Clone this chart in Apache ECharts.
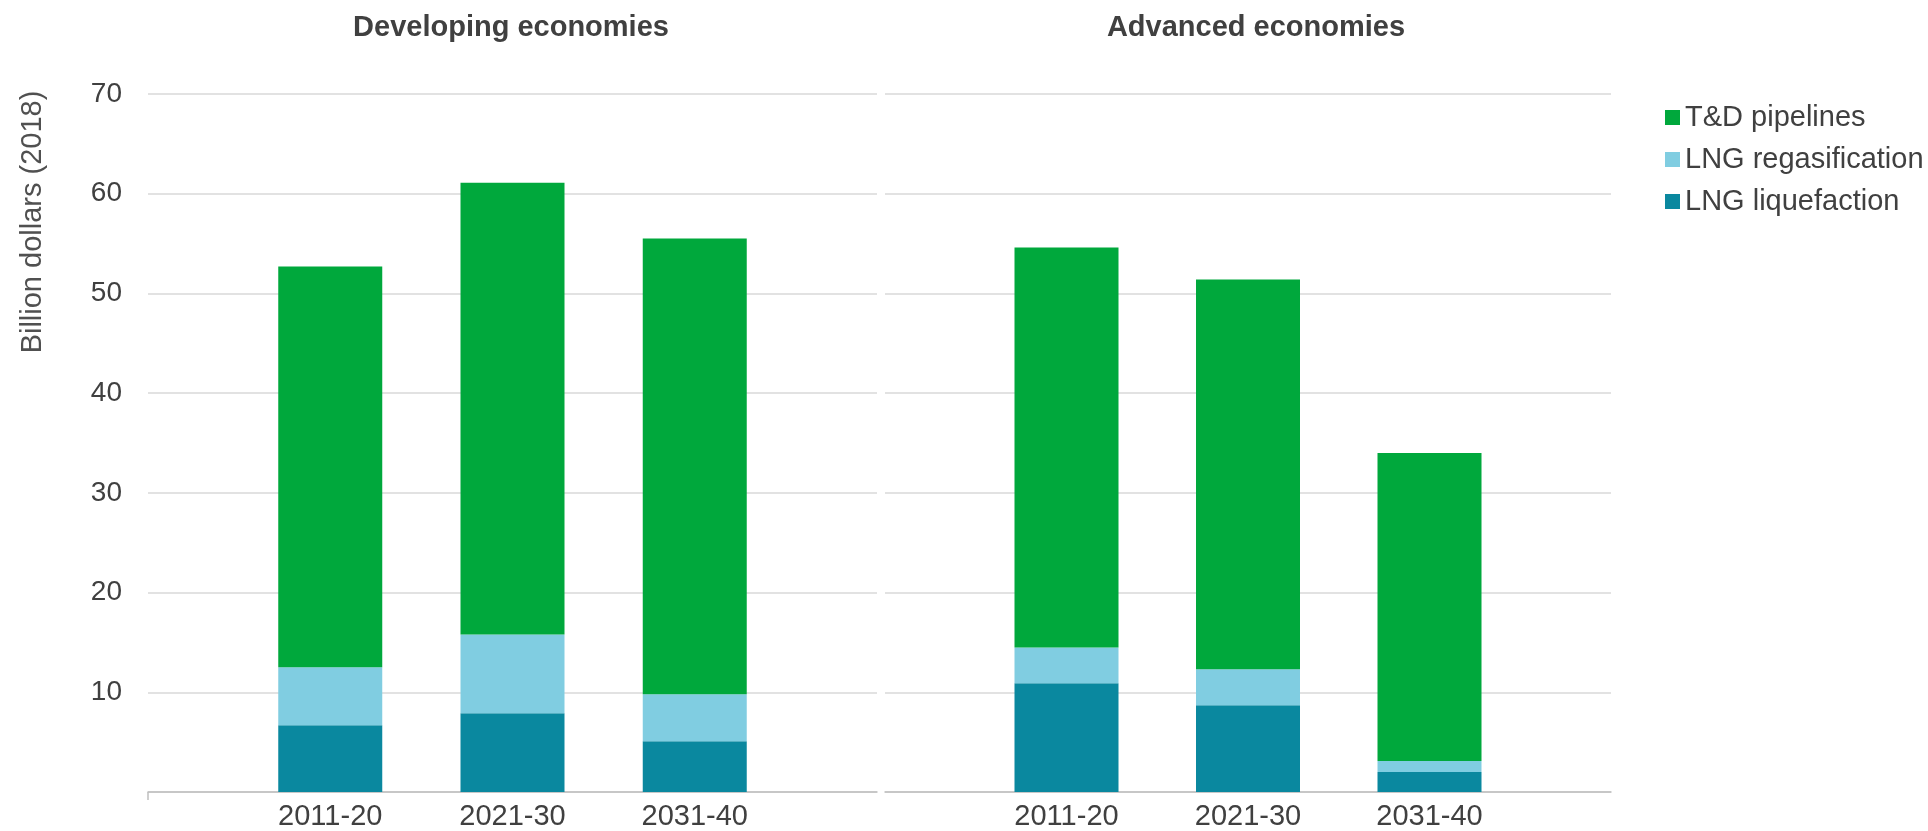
<!DOCTYPE html>
<html>
<head>
<meta charset="utf-8">
<script src="https://cdn.jsdelivr.net/npm/echarts@6/dist/echarts.min.js"></script>
<style>
html,body{margin:0;padding:0;background:#fff;}
#chart{width:1928px;height:831px;}
</style>
</head>
<body>
<div id="chart"></div>
<script>
// Categories per panel
const periods = ['2011-20', '2021-30', '2031-40'];
const panels = ['Developing economies', 'Advanced economies'];
const seriesNames = ['LNG liquefaction', 'LNG regasification', 'T&D pipelines'];
const legendOrder = ['T&D pipelines', 'LNG regasification', 'LNG liquefaction'];
const yTicks = [0, 10, 20, 30, 40, 50, 60, 70];

// Values (billion dollars 2018)
const devLiquefaction = [6.7, 7.9, 5.1];
const devRegasification = [5.8, 7.9, 4.7];
const devPipelines = [40.2, 45.3, 45.7];
const advLiquefaction = [10.9, 8.7, 2.0];
const advRegasification = [3.6, 3.6, 1.1];
const advPipelines = [40.1, 39.1, 30.9];

const colors = {
  'LNG liquefaction': '#0A889F',
  'LNG regasification': '#80CDE1',
  'T&D pipelines': '#00A83C'
};

// Each panel's category axis: blank, the three periods, blank (boundaryGap false)
const categories = [''].concat(periods, ['']);
function pad(arr) { return [null].concat(arr, [null]); }
const panelData = [
  {'LNG liquefaction': devLiquefaction, 'LNG regasification': devRegasification, 'T&D pipelines': devPipelines},
  {'LNG liquefaction': advLiquefaction, 'LNG regasification': advRegasification, 'T&D pipelines': advPipelines}
];

const FONT = "'Liberation Sans', Arial, sans-serif";
const chart = echarts.init(document.getElementById('chart'), null, {renderer: 'canvas'});

const grids = [
  {left: 148, width: 729, top: 94, bottom: 38},
  {left: 885, width: 726, top: 94, bottom: 38}
];

const xAxes = grids.map(function (g, i) {
  return {
    type: 'category',
    gridIndex: i,
    data: categories,
    boundaryGap: false,
    axisLine: {show: true, lineStyle: {color: '#BFBFBF', width: 1.5}},
    axisTick: {show: i === 0, length: 8, lineStyle: {color: '#BFBFBF', width: 1.5},
      interval: function (idx) { return idx === 0; }},
    axisLabel: {fontFamily: FONT, fontSize: 29, color: '#404040', margin: 10, interval: 0},
    splitLine: {show: false}
  };
});

const yAxes = grids.map(function (g, i) {
  return {
    type: 'value',
    gridIndex: i,
    min: yTicks[0],
    max: yTicks[yTicks.length - 1],
    interval: 10,
    axisLine: {show: false},
    axisTick: {show: false},
    axisLabel: {show: i === 0, fontFamily: FONT, fontSize: 28, color: '#404040', margin: 26,
      formatter: function (v) { return v === 0 ? '' : String(v); }},
    splitLine: {lineStyle: {color: '#D9D9D9', width: 1.5}}
  };
});

const series = [];
panelData.forEach(function (pd, i) {
  seriesNames.forEach(function (name) {
    series.push({
      name: name,
      type: 'bar',
      stack: 'total' + i,
      xAxisIndex: i,
      yAxisIndex: i,
      barWidth: 104,
      itemStyle: {color: colors[name]},
      data: pad(pd[name])
    });
  });
});

chart.setOption({
  backgroundColor: '#ffffff',
  animation: false,
  grid: grids.map(function (g) { return Object.assign({containLabel: false}, g); }),
  legend: {
    data: legendOrder,
    orient: 'vertical',
    left: 1660,
    top: 98,
    icon: 'rect',
    itemWidth: 15,
    itemHeight: 15,
    itemGap: 13,
    itemTextGap: 7,
    textStyle: {fontFamily: FONT, fontSize: 29, color: '#404040'}
  },
  xAxis: xAxes,
  yAxis: yAxes,
  graphic: [
    {type: 'text', x: 511, y: 28, style: {text: panels[0], fontFamily: FONT, fontSize: 29, fontWeight: 'bold', fill: '#404040', align: 'center', verticalAlign: 'middle'}},
    {type: 'text', x: 1256, y: 28, style: {text: panels[1], fontFamily: FONT, fontSize: 29, fontWeight: 'bold', fill: '#404040', align: 'center', verticalAlign: 'middle'}},
    {type: 'text', x: 33, y: 222, rotation: Math.PI / 2, style: {text: 'Billion dollars (2018)', fontFamily: FONT, fontSize: 29, fill: '#505050', align: 'center', verticalAlign: 'middle'}}
  ],
  series: series
});
</script>
</body>
</html>
